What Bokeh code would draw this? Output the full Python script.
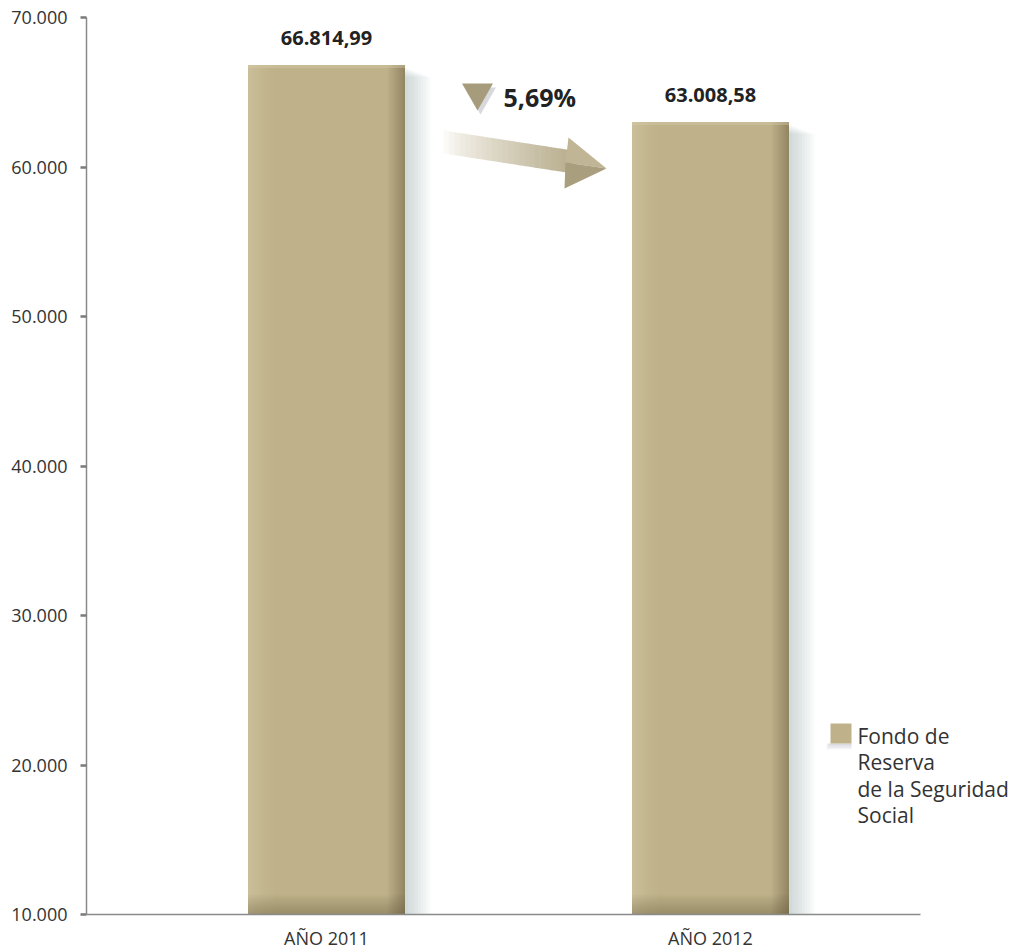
import numpy as np
from bokeh.plotting import figure
from bokeh.models import Range1d, FixedTicker, Label, ColumnDataSource
from bokeh.embed import file_html
from bokeh.resources import INLINE
from bokeh.core.properties import value

# ---------------- data ----------------
categories = ["AÑO 2011", "AÑO 2012"]
values = [66814.99, 63008.58]
value_labels = ["66.814,99", "63.008,58"]
change_label = "5,69%"
y_ticks = [10000, 20000, 30000, 40000, 50000, 60000, 70000]
y_tick_labels = ["10.000", "20.000", "30.000", "40.000", "50.000", "60.000", "70.000"]
legend_lines = ["Fondo de", "Reserva", "de la Seguridad", "Social"]
x_pos = [1, 2]

# ---------------- geometry helpers ----------------
FL, FB, FT, FR = 86, 914, 17, 1028     # frame edges in page pixels
FRAME_W, FRAME_H = FR - FL, FB - FT
ux = 1 / 384.0                          # data units per px (bar spacing = 384 px)
X0 = 1 - (326 - FL) * ux
X1 = X0 + FRAME_W * ux
AXIS_END = X0 + (920 - FL) * ux
Y0, Y1 = 10000, 70000
uy = (Y1 - Y0) / FRAME_H
TXT_SHIFT = 8                           # text baseline correction (px)


def px2x(px):
    return X0 + (px - FL) * ux


def px2y(py):
    return Y0 + (FB - py) * uy


BAR_PX = 157
bar_w = BAR_PX * ux
FONT = "Open Sans"
BAR_COLOR = "#bfb28a"

p = figure(frame_width=FRAME_W, frame_height=FRAME_H,
           x_range=Range1d(X0, X1), y_range=Range1d(Y0, Y1),
           output_backend="svg", toolbar_location=None,
           min_border_left=FL, min_border_right=2,
           min_border_top=FT, min_border_bottom=32)
p.outline_line_color = None
p.xgrid.visible = False
p.ygrid.visible = False
p.background_fill_color = "white"
p.border_fill_color = "white"

lefts = [x - bar_w / 2 for x in x_pos]
rights = [x + bar_w / 2 for x in x_pos]
src = ColumnDataSource(dict(x=x_pos, top=values, left=lefts, right=rights,
                            label=value_labels,
                            ly=[v + (19 + TXT_SHIFT) * uy for v in values]))

# soft shadow to the right of bars
for k in range(1, 11):
    p.quad(left=rights, right=[r + k * 2.6 * ux for r in rights],
           top=[v - (2 + k) * uy for v in values], bottom=[Y0, Y0],
           fill_color="#7d8596", fill_alpha=0.035, line_color=None)

# main bars
p.quad(left="left", right="right", top="top", bottom=Y0, source=src,
       fill_color=BAR_COLOR, line_color=None)

# left highlight (smooth ramp)
for j in range(30):
    al = 0.5 * (1 - j / 30) ** 1.5
    p.quad(left=[l + j * ux for l in lefts], right=[l + (j + 1) * ux for l in lefts],
           top=values, bottom=[Y0, Y0], fill_color="#d6cbaa", fill_alpha=al, line_color=None)

# right darkening
for j in range(18):
    a = BAR_PX - 18 + j
    al = 0.02 + 0.026 * j
    p.quad(left=[l + a * ux for l in lefts], right=[l + (a + 1) * ux for l in lefts],
           top=values, bottom=[Y0, Y0], fill_color="#5e5236", fill_alpha=al, line_color=None)

# top highlight
p.quad(left=lefts, right=rights, top=values, bottom=[v - 3 * uy for v in values],
       fill_color="#d6cbaa", fill_alpha=0.4, line_color=None)

# bottom darkening
for j in range(20):
    al = 0.018 * (j + 1)
    p.quad(left=lefts, right=rights,
           top=[Y0 + (20 - j) * uy] * 2, bottom=[Y0 + (19 - j) * uy] * 2,
           fill_color="#4e4328", fill_alpha=al, line_color=None)

# value labels
p.text(x="x", y="ly", text="label", source=src, text_align="center",
       text_baseline="alphabetic", text_font=value(FONT),
       text_font_style="bold", text_font_size="20px", text_color="#222222")

# ---------------- change indicator arrow ----------------
def lerp_col(c1, c2, t):
    a = [int(c1[i:i + 2], 16) for i in (1, 3, 5)]
    b = [int(c2[i:i + 2], 16) for i in (1, 3, 5)]
    return "#%02x%02x%02x" % tuple(int(round(a[i] + (b[i] - a[i]) * t)) for i in range(3))


N = 24
sx0, sx1 = 443, 572
xs_list, ys_list, cols = [], [], []
for i in range(N):
    t0, t1 = i / N, (i + 1) / N
    xa, xb = sx0 + (sx1 - sx0) * t0, sx0 + (sx1 - sx0) * t1
    ta, tb = 130 + 20 * t0, 130 + 20 * t1
    ba, bb = 153 + 20 * t0, 153 + 20 * t1
    xs_list.append([px2x(xa), px2x(xb + 0.5), px2x(xb + 0.5), px2x(xa)])
    ys_list.append([px2y(ta), px2y(tb), px2y(bb), px2y(ba)])
    cols.append(lerp_col("#fbfaf6", "#b7ac8b", t0 ** 0.8))
p.patches(xs=xs_list, ys=ys_list, fill_color=cols, line_color=None)
# arrow head
p.patch(x=[px2x(568), px2x(606), px2x(565)], y=[px2y(137), px2y(168), px2y(162)],
        fill_color="#c0b594", line_color=None)
p.patch(x=[px2x(565), px2x(606), px2x(564)], y=[px2y(162), px2y(168), px2y(188)],
        fill_color="#a99e7d", line_color=None)

# triangle marker with shadow
p.scatter(x=[px2x(480)], y=[px2y(96)], marker="inverted_triangle", size=31,
          fill_color="#4a5164", fill_alpha=0.22, line_color=None)
p.scatter(x=[px2x(477)], y=[px2y(92)], marker="inverted_triangle", size=31,
          fill_color="#a69c7b", line_color=None)
p.add_layout(Label(x=px2x(503), y=px2y(104 - TXT_SHIFT), text=change_label,
                   text_font=FONT, text_font_style="bold", text_font_size="25px",
                   text_color="#222222", text_baseline="alphabetic"))

# ---------------- legend ----------------
for k in range(1, 5):
    p.quad(left=[px2x(830 - k)], right=[px2x(851)], top=[px2y(743)],
           bottom=[px2y(743 + k * 1.5)], fill_color="#7d8596", fill_alpha=0.08,
           line_color=None)
p.quad(left=[px2x(830)], right=[px2x(851)], top=[px2y(723)], bottom=[px2y(743)],
       fill_color=BAR_COLOR, line_color=None)
for i, line in enumerate(legend_lines):
    p.add_layout(Label(x=px2x(857), y=px2y(743 - TXT_SHIFT + i * 26.5), text=line,
                       text_font=FONT, text_font_size="21px", text_color="#333333",
                       text_baseline="alphabetic"))

# ---------------- axes ----------------
p.yaxis.ticker = FixedTicker(ticks=y_ticks)
p.yaxis.major_label_overrides = dict(zip(y_ticks, y_tick_labels))
p.yaxis.major_label_text_font = FONT
p.yaxis.major_label_text_font_size = "18px"
p.yaxis.major_label_text_color = "#333333"
p.yaxis.major_label_standoff = 13
p.yaxis.major_tick_out = 6
p.yaxis.major_tick_in = 0
p.yaxis.major_tick_line_width = 2.5
p.yaxis.major_tick_line_color = "#7a7a7a"
p.yaxis.minor_tick_line_color = None
p.yaxis.axis_line_color = "#8a8a8a"
p.yaxis.axis_line_width = 1.5

p.xaxis.bounds = (X0, AXIS_END)
p.xaxis.ticker = FixedTicker(ticks=x_pos)
p.xaxis.major_label_overrides = dict(zip(x_pos, categories))
p.xaxis.major_label_text_font = FONT
p.xaxis.major_label_text_font_size = "18px"
p.xaxis.major_label_text_color = "#333333"
p.xaxis.major_label_standoff = 11
p.xaxis.major_tick_out = 0
p.xaxis.major_tick_in = 0
p.xaxis.major_tick_line_color = None
p.xaxis.minor_tick_line_color = None
p.xaxis.axis_line_color = "#8a8a8a"
p.xaxis.axis_line_width = 1.5

open("out.html", "w").write(file_html(p, INLINE))
